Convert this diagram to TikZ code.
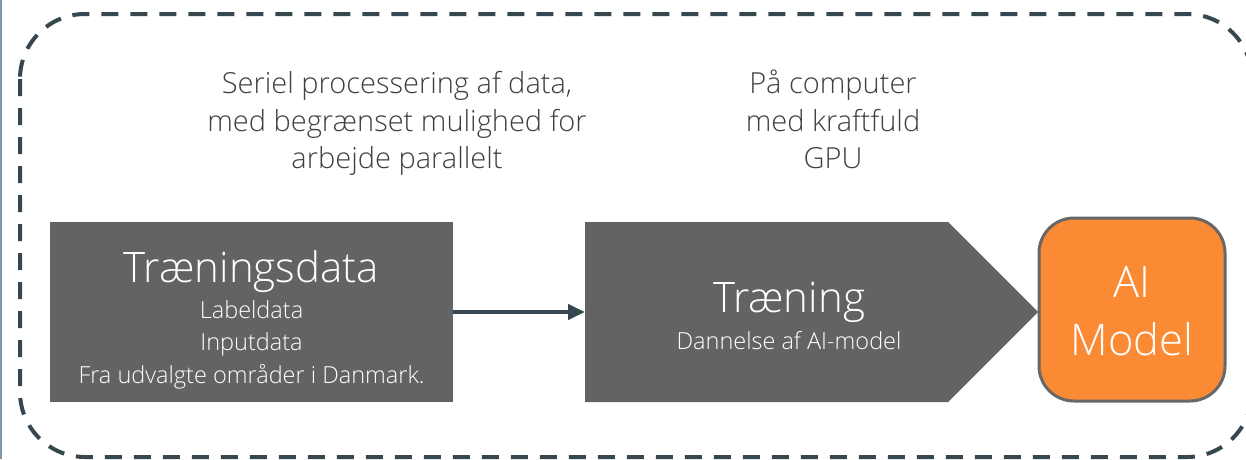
\documentclass[tikz,border=0pt]{standalone}
\usepackage{fontspec}
\setmainfont{Open Sans Light}
\usetikzlibrary{arrows.meta}
\definecolor{slate}{HTML}{37474F}
\definecolor{boxgray}{HTML}{636363}
\definecolor{aiorange}{HTML}{FB8A35}
\definecolor{rimgray}{HTML}{676767}
\definecolor{edgeblue}{HTML}{7F97A8}
\definecolor{captiongray}{HTML}{404040}
\begin{document}
\begin{tikzpicture}[x=1pt,y=-1pt,
  caption/.style={text=captiongray, font=\fontsize{29}{34}\selectfont, anchor=base, inner sep=0pt},
  headline/.style={text=white, font=\fontsize{42}{50}\selectfont, anchor=base, inner sep=0pt},
  detail/.style={text=white, font=\fontsize{23.5}{28}\selectfont, anchor=base, inner sep=0pt},
  stagebox/.style={inner sep=0pt, outer sep=0pt}]
\useasboundingbox (0,0) rectangle (1246,459);
\clip (0,0) rectangle (1246,459);
\fill[white] (0,0) rectangle (1246,459);
% thin rule on the left edge
\draw[edgeblue, line width=1.5pt] (0.75,0) -- (0.75,459);
% dashed frame around the whole pipeline
\draw[slate, line width=4pt, dash pattern=on 17pt off 12pt, rounded corners=65pt]
  (20,14) rectangle (1252,457);

% explanatory captions
\node[caption] (c1) at (397,93) {Seriel processering af data,};
\node[caption] (c2) at (397,131) {med begrænset mulighed for};
\node[caption] (c3) at (397,168) {arbejde parallelt};
\node[caption] (g1) at (833,93) {På computer};
\node[caption] (g2) at (833,131) {med kraftfuld};
\node[caption] (g3) at (833,168) {GPU};

% training data block
\node[stagebox, fill=boxgray, minimum width=403pt, minimum height=180pt] (data) at (251.5,312) {};
\node[headline] (dt) at (251.5,282) {Træningsdata};
\node[detail] (d1) at (251.5,318) {Labeldata};
\node[detail] (d2) at (251.5,350.5) {Inputdata};
\node[detail] (d3) at (251.5,383) {Fra udvalgte områder i Danmark.};

% training stage, pointed to the right
\fill[boxgray] (585,222) -- (948,222) -- (1038,312) -- (948,402) -- (585,402) -- cycle;
\node[stagebox, minimum width=363pt, minimum height=180pt] (train) at (766.5,312) {};
\node[headline] (tt) at (789,312) {Træning};
\node[detail] (t1) at (789,349) {Dannelse af AI-model};

% resulting model
\node[stagebox, fill=aiorange, draw=rimgray, line width=3pt, rounded corners=35pt,
  minimum width=186pt, minimum height=183pt] (ai) at (1132,309.5) {};
\node[headline, font=\fontsize{43.5}{50}\selectfont] (a1) at (1132,297) {AI};
\node[headline, font=\fontsize{43.5}{50}\selectfont] (a2) at (1132,355) {Model};

% flow from data to training
\draw[slate, line width=4pt, -{Triangle[length=17pt,width=15pt]}] (data.east) -- (train.west);
\end{tikzpicture}
\end{document}
